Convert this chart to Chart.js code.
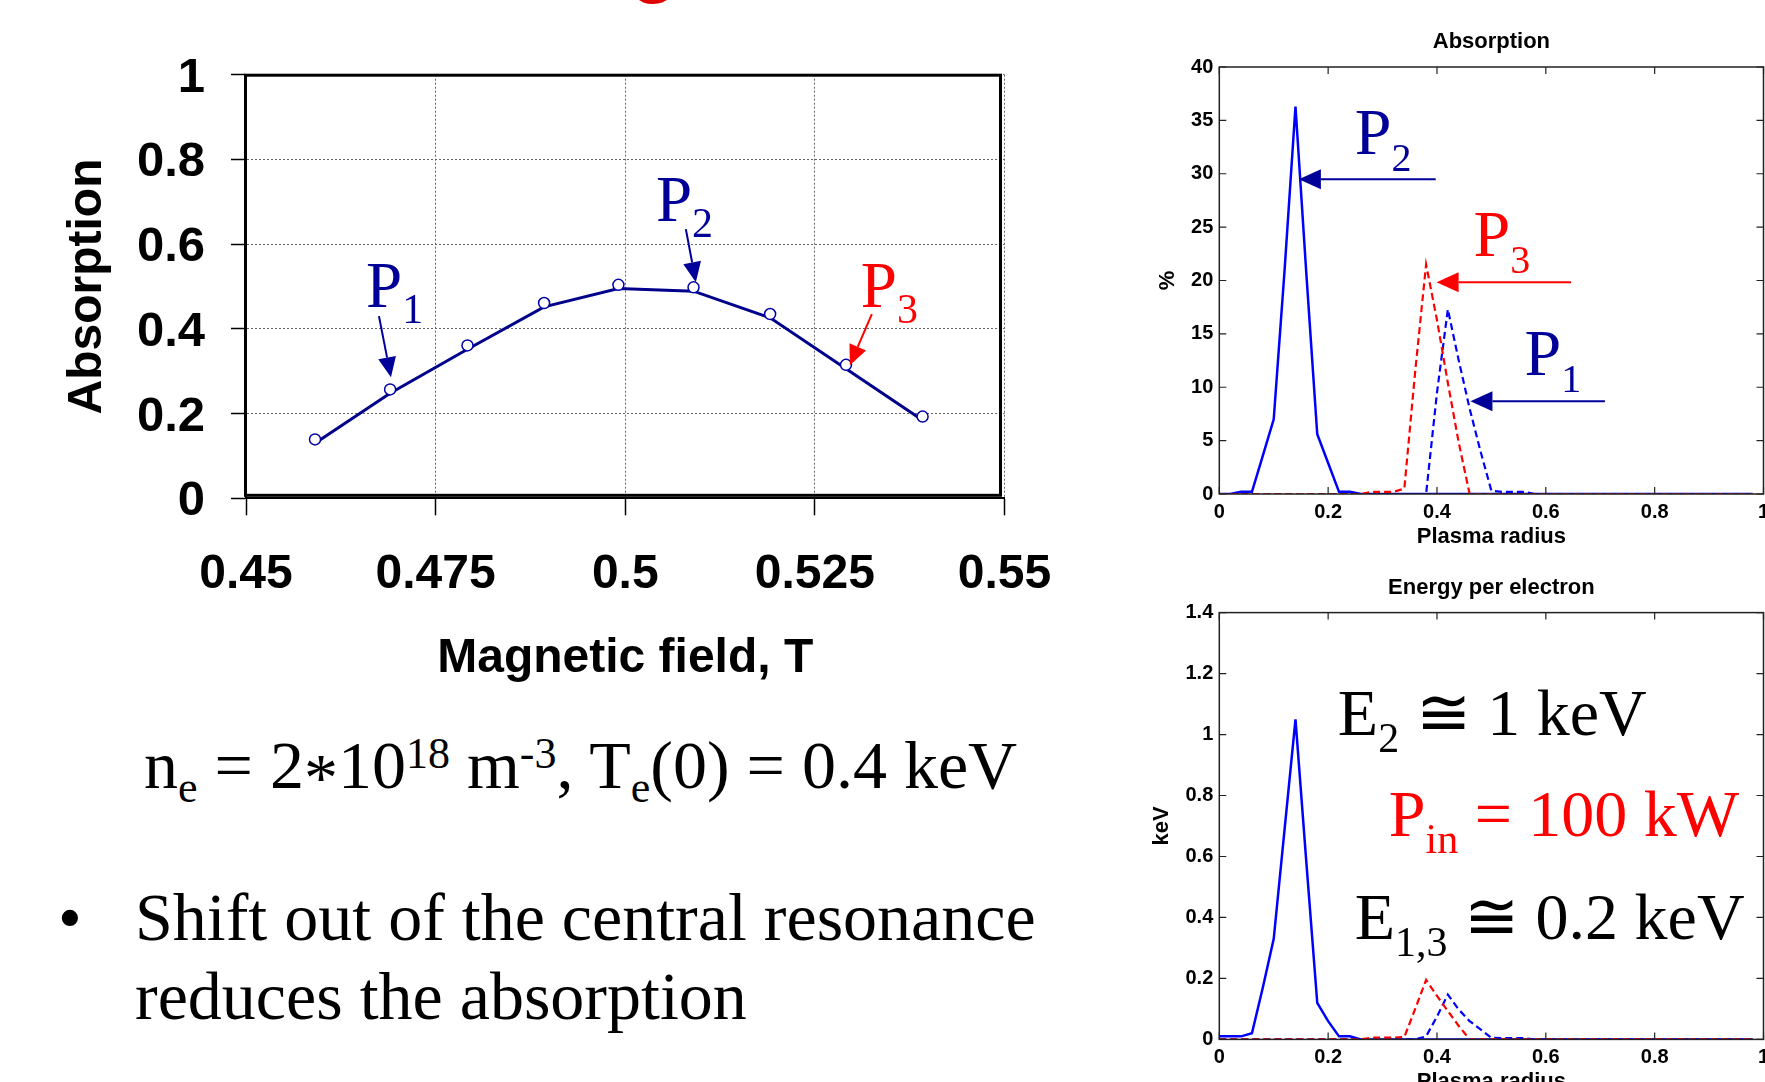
<!DOCTYPE html>
<html>
<head>
<meta charset="utf-8">
<script src="https://cdn.jsdelivr.net/npm/chart.js@4.4.0/dist/chart.umd.min.js"></script>
<style>
  html, body { margin: 0; padding: 0; background: #fff; overflow: hidden; width: 1765px; height: 1082px; }
  .holder { position: absolute; }
  .txt { position: absolute; white-space: nowrap; line-height: 1; font-family: "Liberation Serif", "Times New Roman", serif; color: #000; }
  .txt span { line-height: 1; }
  .sub { font-size: 44px; vertical-align: -14px; }
  .sup { font-size: 44px; vertical-align: 20px; }
  .star { position: relative; top: 12px; }
</style>
</head>
<body>
<div class="holder" style="left:0;top:0;width:1100px;height:700px"><canvas id="fieldChart"></canvas></div>
<div class="holder" style="left:1140px;top:20px;width:660px;height:540px"><canvas id="absChart"></canvas></div>
<div class="holder" style="left:1140px;top:560px;width:660px;height:560px"><canvas id="energyChart"></canvas></div>

<div class="txt" style="left:627px;top:-69px;font-family:'Liberation Sans',Arial,sans-serif;font-weight:bold;font-size:85px;color:#e00000">o</div>

<div class="txt" style="left:144px;top:731px;font-size:68px">n<span class="sub">e</span> = 2<span class="star">*</span>10<span class="sup">18</span> m<span class="sup">-3</span>, T<span class="sub">e</span>(0) = 0.4 keV</div>

<div class="txt" style="left:58px;top:883px;font-size:68px">•</div>
<div class="txt" style="left:135px;top:883px;font-size:68px">Shift out of the central resonance</div>
<div class="txt" style="left:135px;top:962px;font-size:68px">reduces the absorption</div>

<script>
// main scan: absorption vs magnetic field
const fieldT = [0.4591, 0.469, 0.4792, 0.4893, 0.4991, 0.509, 0.5191, 0.5291, 0.5392];
const absorptionMarks = [0.139, 0.257, 0.361, 0.461, 0.504, 0.498, 0.435, 0.315, 0.193];
const absorptionLine = [0.130, 0.248, 0.352, 0.452, 0.495, 0.489, 0.426, 0.306, 0.184];
const fieldTicks = [0.45, 0.475, 0.5, 0.525, 0.55];

// radial profiles
const radius = [0, 0.02, 0.04, 0.06, 0.08, 0.1, 0.12, 0.14, 0.16, 0.18,
  0.2, 0.22, 0.24, 0.26, 0.28, 0.3, 0.32, 0.34, 0.36, 0.38,
  0.4, 0.42, 0.44, 0.46, 0.48, 0.5, 0.52, 0.54, 0.56, 0.58,
  0.6, 0.62, 0.64, 0.66, 0.68, 0.7, 0.72, 0.74, 0.76, 0.78,
  0.8, 0.82, 0.84, 0.86, 0.88, 0.9, 0.92, 0.94, 0.96, 0.98];

const absP2 = [0, 0, 0.2, 0.2, 3.6, 7.0, 21, 36.3, 20.6, 5.6,
  2.9, 0.2, 0.2, 0, 0, 0, 0, 0, 0, 0,
  0, 0, 0, 0, 0, 0, 0, 0, 0, 0,
  0, 0, 0, 0, 0, 0, 0, 0, 0, 0,
  0, 0, 0, 0, 0, 0, 0, 0, 0, 0];
const absP3 = [0, 0, 0, 0, 0, 0, 0, 0, 0, 0,
  0, 0, 0, 0, 0.2, 0.2, 0.2, 0.5, 11.5, 21.5,
  16.3, 10.4, 4.8, 0, 0, 0, 0, 0, 0, 0,
  0, 0, 0, 0, 0, 0, 0, 0, 0, 0,
  0, 0, 0, 0, 0, 0, 0, 0, 0, 0];
const absP1 = [0, 0, 0, 0, 0, 0, 0, 0, 0, 0,
  0, 0, 0, 0, 0, 0, 0, 0, 0, 0,
  9.5, 17.3, 12.5, 8, 4, 0.3, 0.2, 0.2, 0.2, 0,
  0, 0, 0, 0, 0, 0, 0, 0, 0, 0,
  0, 0, 0, 0, 0, 0, 0, 0, 0, 0];

const energyP2 = [0.01, 0.01, 0.01, 0.02, 0.17, 0.33, 0.69, 1.05, 0.58, 0.12,
  0.06, 0.01, 0.01, 0, 0, 0, 0, 0, 0, 0,
  0, 0, 0, 0, 0, 0, 0, 0, 0, 0,
  0, 0, 0, 0, 0, 0, 0, 0, 0, 0,
  0, 0, 0, 0, 0, 0, 0, 0, 0, 0];
const energyP3 = [0, 0, 0, 0, 0, 0, 0, 0, 0, 0,
  0, 0, 0, 0, 0.006, 0.006, 0.006, 0.008, 0.1, 0.195,
  0.143, 0.093, 0.044, 0, 0, 0, 0, 0, 0, 0,
  0, 0, 0, 0, 0, 0, 0, 0, 0, 0,
  0, 0, 0, 0, 0, 0, 0, 0, 0, 0];
const energyP1 = [0, 0, 0, 0, 0, 0, 0, 0, 0, 0,
  0, 0, 0, 0, 0, 0, 0, 0, 0, 0.01,
  0.075, 0.147, 0.098, 0.06, 0.033, 0.005, 0.004, 0.004, 0.004, 0,
  0, 0, 0, 0, 0, 0, 0, 0, 0, 0,
  0, 0, 0, 0, 0, 0, 0, 0, 0, 0];

const navy = "#000099";
const red = "#ff0000";
const sans = '"Liberation Sans", Arial, sans-serif';
const serif = '"Liberation Serif", "Times New Roman", serif';

// annotations, in data units of each chart
const fieldNotes = {
  labels: [
    { at: [0.46582, 0.4512], color: navy, parts: [["P", 0], ["1", 1]] },
    { at: [0.50404, 0.6544], color: navy, parts: [["P", 0], ["2", 1]] },
    { at: [0.53106, 0.4512], color: red, parts: [["P", 0], ["3", 1]] },
  ],
  arrows: [
    { from: [0.46753, 0.43], to: [0.46911, 0.2858], color: navy },
    { from: [0.50799, 0.6355], to: [0.50931, 0.5103], color: navy },
    { from: [0.53251, 0.4347], to: [0.52961, 0.3142], color: red },
  ],
  size: 65, subSize: 42, drop: 16, head: 20, half: 9,
};
const absNotes = {
  labels: [
    { at: [0.249, 31.87], color: navy, parts: [["P", 0], ["2", 1]] },
    { at: [0.4673, 22.3], color: red, parts: [["P", 0], ["3", 1]] },
    { at: [0.561, 11.15], color: navy, parts: [["P", 0], ["1", 1]] },
  ],
  arrows: [
    { from: [0.3976, 29.48], to: [0.1462, 29.48], color: navy },
    { from: [0.6464, 19.83], to: [0.3993, 19.83], color: red },
    { from: [0.7086, 8.7], to: [0.4615, 8.7], color: navy },
  ],
  size: 66, subSize: 40, drop: 17, head: 22, half: 10,
};
const energyNotes = {
  labels: [
    { at: [0.2178, 0.998], color: "#000", parts: [["E", 0], ["2", 1], [" ≅ 1 keV", 0]] },
    { at: [0.3114, 0.667], color: red, parts: [["P", 0], ["in", 1], [" = 100 kW", 0]] },
    { at: [0.249, 0.328], color: "#000", parts: [["E", 0], ["1,3", 1], [" ≅ 0.2 keV", 0]] },
  ],
  arrows: [],
  size: 66, subSize: 42, drop: 16.5, head: 22, half: 10,
};

Chart.defaults.font.family = sans;
Chart.defaults.color = "#000";

const plainNumber = (v) => String(parseFloat(Number(v).toFixed(3)));

const notes = {
  id: "notes",
  afterDatasetsDraw(chart, args, opts) {
    const { ctx, scales: { x, y } } = chart;
    const arrows = opts.arrows || [];
    const labels = opts.labels || [];
    ctx.save();
    arrows.forEach((a) => {
      const x1 = x.getPixelForValue(a.from[0]), y1 = y.getPixelForValue(a.from[1]);
      const x2 = x.getPixelForValue(a.to[0]), y2 = y.getPixelForValue(a.to[1]);
      const ang = Math.atan2(y2 - y1, x2 - x1);
      const bx = x2 - opts.head * Math.cos(ang), by = y2 - opts.head * Math.sin(ang);
      ctx.strokeStyle = a.color;
      ctx.fillStyle = a.color;
      ctx.lineWidth = 2;
      ctx.beginPath();
      ctx.moveTo(x1, y1);
      ctx.lineTo(bx, by);
      ctx.stroke();
      ctx.beginPath();
      ctx.moveTo(x2, y2);
      ctx.lineTo(bx + opts.half * Math.sin(ang), by - opts.half * Math.cos(ang));
      ctx.lineTo(bx - opts.half * Math.sin(ang), by + opts.half * Math.cos(ang));
      ctx.closePath();
      ctx.fill();
    });
    ctx.textBaseline = "alphabetic";
    ctx.textAlign = "left";
    labels.forEach((l) => {
      let px = x.getPixelForValue(l.at[0]);
      const py = y.getPixelForValue(l.at[1]);
      ctx.fillStyle = l.color;
      l.parts.forEach(([text, isSub]) => {
        ctx.font = (isSub ? opts.subSize : opts.size) + "px " + serif;
        ctx.fillText(text, px, py + (isSub ? opts.drop : 0));
        px += ctx.measureText(text).width;
      });
    });
    ctx.restore();
  },
};

// matlab style frame with inward ticks
const frame = {
  id: "frame",
  afterDatasetsDraw(chart) {
    const { ctx, chartArea: a, scales: { x, y } } = chart;
    ctx.save();
    ctx.strokeStyle = "#222";
    ctx.lineWidth = 1.5;
    ctx.strokeRect(a.left, a.top, a.right - a.left, a.bottom - a.top);
    ctx.lineWidth = 1.2;
    ctx.beginPath();
    x.ticks.forEach((t) => {
      const px = x.getPixelForValue(t.value);
      ctx.moveTo(px, a.bottom); ctx.lineTo(px, a.bottom - 7);
      ctx.moveTo(px, a.top); ctx.lineTo(px, a.top + 7);
    });
    y.ticks.forEach((t) => {
      const py = y.getPixelForValue(t.value);
      ctx.moveTo(a.left, py); ctx.lineTo(a.left + 7, py);
      ctx.moveTo(a.right, py); ctx.lineTo(a.right - 7, py);
    });
    ctx.stroke();
    ctx.restore();
  },
};

// thick box of the field scan, sits a little inside the axes
const fieldBox = {
  id: "fieldBox",
  afterDatasetsDraw(chart) {
    const { ctx, chartArea: a } = chart;
    ctx.save();
    ctx.strokeStyle = "#000";
    ctx.lineWidth = 3;
    ctx.strokeRect(a.left - 0.5, a.top + 0.5, a.right - a.left - 3.5, a.bottom - a.top - 3.5);
    ctx.restore();
  },
};

const bigBold = (size) => ({ family: sans, size: size, weight: "bold" });

new Chart(document.querySelector("#fieldChart"), {
  type: "line",
  data: {
    datasets: [
      {
        data: fieldT.map((v, i) => ({ x: v, y: absorptionMarks[i] })),
        showLine: false,
        pointRadius: 5.5,
        pointBackgroundColor: "#fff",
        pointBorderColor: "#0000aa",
        pointBorderWidth: 1.5,
        order: 0,
      },
      {
        data: fieldT.map((v, i) => ({ x: v, y: absorptionLine[i] })),
        borderColor: "#00008b",
        borderWidth: 3,
        pointRadius: 0,
        tension: 0,
        order: 1,
      },
    ],
  },
  options: {
    responsive: true,
    maintainAspectRatio: false,
    animation: false,
    events: [],
    layout: { padding: { top: 74.7, right: 95.5, left: 0, bottom: 0 } },
    plugins: { legend: { display: false }, tooltip: { enabled: false }, notes: fieldNotes },
    scales: {
      x: {
        type: "linear",
        min: 0.45,
        max: 0.55,
        afterBuildTicks: (s) => {
          s.ticks = fieldTicks.map((v) => ({ value: v }));
        },
        ticks: { font: bigBold(48), padding: 31, maxRotation: 0, autoSkip: false, callback: plainNumber },
        grid: { color: "#666", lineWidth: 1, tickLength: 17, tickColor: "#000", tickWidth: 1.5 },
        border: { display: true, color: "#000", width: 2, dash: [2, 2] },
        title: { display: true, text: "Magnetic field, T", font: bigBold(48), padding: { top: 0, bottom: 12 } },
        afterFit: (s) => { s.height = 201.7; s.paddingLeft = 0; s.paddingRight = 0; },
      },
      y: {
        min: 0,
        max: 1,
        ticks: { stepSize: 0.2, font: bigBold(49), padding: 26, labelOffset: 3.5, callback: plainNumber },
        grid: { color: "#666", lineWidth: 1, tickLength: 15, tickColor: "#000", tickWidth: 1.5 },
        border: { display: true, color: "#000", width: 2, dash: [2, 2] },
        title: { display: true, text: "Absorption", font: bigBold(48), padding: { top: 59, bottom: 0 } },
        afterFit: (s) => { s.width = 246; s.paddingTop = 0; s.paddingBottom = 0; },
      },
    },
  },
  plugins: [fieldBox, notes],
});

const profileLines = (p3, p1, p2) => [
  { data: p3, borderColor: red, borderWidth: 2.2, borderDash: [7, 4], pointRadius: 0, tension: 0 },
  { data: p1, borderColor: "#0000ff", borderWidth: 2.2, borderDash: [7, 4], pointRadius: 0, tension: 0 },
  { data: p2, borderColor: "#0000ff", borderWidth: 2.5, pointRadius: 0, tension: 0 },
].map((d) => ({ ...d, data: d.data.map((v, i) => ({ x: radius[i], y: v })) }));

const profileOptions = (title, yTitle, yMax, yStep, titlePad, yTitlePad, xHeight, xTitlePad, noteSet) => ({
  responsive: true,
  maintainAspectRatio: false,
  animation: false,
  events: [],
  layout: { padding: { top: 0, right: 36.5, left: 0, bottom: 0 } },
  plugins: {
    legend: { display: false },
    tooltip: { enabled: false },
    title: { display: true, text: title, font: bigBold(22), padding: titlePad, fullSize: false },
    notes: noteSet,
  },
  scales: {
    x: {
      type: "linear",
      min: 0,
      max: 1,
      ticks: { stepSize: 0.2, font: bigBold(20), padding: 6, maxRotation: 0, callback: plainNumber },
      grid: { display: false, drawTicks: false },
      border: { display: false },
      title: { display: true, text: "Plasma radius", font: bigBold(22), padding: { top: 0, bottom: xTitlePad } },
      afterFit: (s) => { s.height = xHeight; s.paddingLeft = 0; s.paddingRight = 0; },
    },
    y: {
      min: 0,
      max: yMax,
      ticks: { stepSize: yStep, font: bigBold(20), padding: 6, callback: plainNumber },
      grid: { display: false, drawTicks: false },
      border: { display: false },
      title: { display: true, text: yTitle, font: bigBold(22), padding: { top: yTitlePad, bottom: 0 } },
      afterFit: (s) => { s.width = 79.3; s.paddingTop = 0; s.paddingBottom = 0; },
    },
  },
});

new Chart(document.querySelector("#absChart"), {
  type: "line",
  data: { datasets: profileLines(absP3, absP1, absP2) },
  options: profileOptions("Absorption", "%", 40, 5, { top: 8.8, bottom: 11.8 }, 14.8, 66, 10.3, absNotes),
  plugins: [frame, notes],
});

new Chart(document.querySelector("#energyChart"), {
  type: "line",
  data: { datasets: profileLines(energyP3, energyP1, energyP2) },
  options: profileOptions("Energy per electron", "keV", 1.4, 0.2, { top: 14.8, bottom: 11.4 }, 8.8, 80.6, 24.8, energyNotes),
  plugins: [frame, notes],
});
</script>
</body>
</html>
